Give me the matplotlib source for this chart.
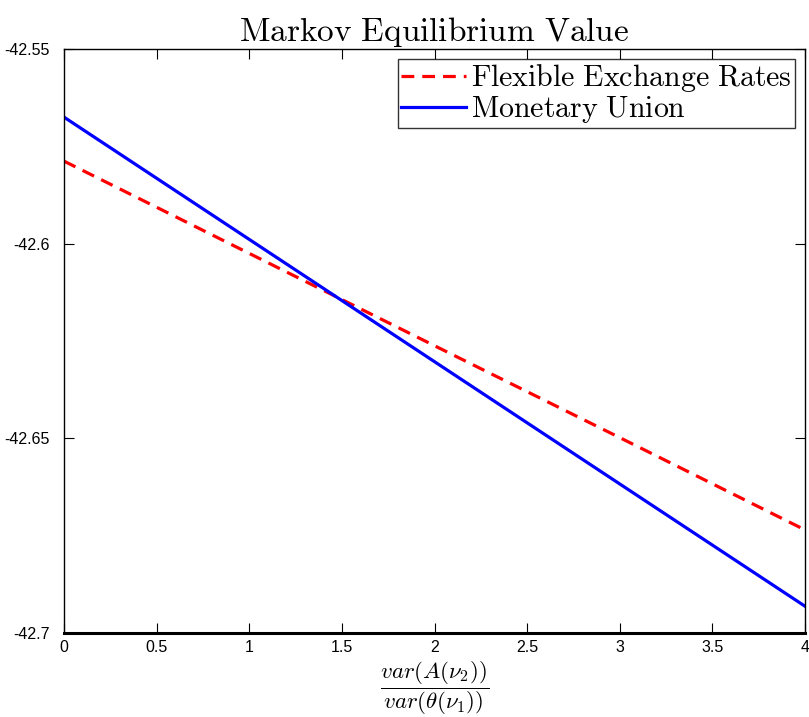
import matplotlib
matplotlib.use("Agg")
import matplotlib.pyplot as plt

plt.rcParams['mathtext.fontset'] = 'cm'
plt.rcParams['font.family'] = ['Liberation Sans', 'DejaVu Sans']

# Variance ratio on the x axis
ratio = [0, 1, 2, 3, 4]
# Value under each regime
flexible = [-42.5788, -42.6025, -42.6262, -42.6498, -42.6735]
union = [-42.5675, -42.5989, -42.6303, -42.6617, -42.6931]

xticks = [0, 0.5, 1, 1.5, 2, 2.5, 3, 3.5, 4]
xticklabels = ['0', '0.5', '1', '1.5', '2', '2.5', '3', '3.5', '4']
yticks = [-42.7, -42.65, -42.6, -42.55]
yticklabels = ['-42.7', '-42.65', '-42.6', '-42.55']

fig = plt.figure(figsize=(8.09, 7.17), dpi=100)
ax = fig.add_axes([0.0791, 0.117, 0.916, 0.8147])

ax.plot(ratio, flexible, color='red', linestyle='--', linewidth=2.3,
        dashes=(4, 2.5), label=r'$\mathrm{Flexible\ Exchange\ Rates}$')
ax.plot(ratio, union, color='blue', linestyle='-', linewidth=2.3,
        label=r'$\mathrm{Monetary\ Union}$')

ax.set_xlim(0, 4)
ax.set_ylim(-42.7, -42.55)
ax.set_xticks(xticks)
ax.set_xticklabels(xticklabels)
ax.set_yticks(yticks)
ax.set_yticklabels(yticklabels)
ax.tick_params(direction='in', top=True, right=True, length=7, labelsize=11.5)
ax.tick_params(axis='y', pad=10)
ax.tick_params(axis='x', pad=5)
for s in ax.spines.values():
    s.set_linewidth(1.0)
ax.spines['bottom'].set_linewidth(2.2)

ax.set_title(r'$\mathrm{Markov\ Equilibrium\ Value}$', fontsize=24, pad=6)
# x label as a fraction, placed below the tick labels
fig.text(0.5375, 0.040, r'$\dfrac{var(A(\nu_2))}{var(\theta(\nu_1))}$',
         fontsize=16.5, ha='center', va='center')

leg = ax.legend(loc='upper right', fontsize=21.5, frameon=True, fancybox=False,
                edgecolor='black', borderpad=0.1, handlelength=2.2,
                handletextpad=0.15, labelspacing=0.0, borderaxespad=0.35)
leg.get_frame().set_linewidth(1.0)

fig.savefig('out.png', dpi=100)
